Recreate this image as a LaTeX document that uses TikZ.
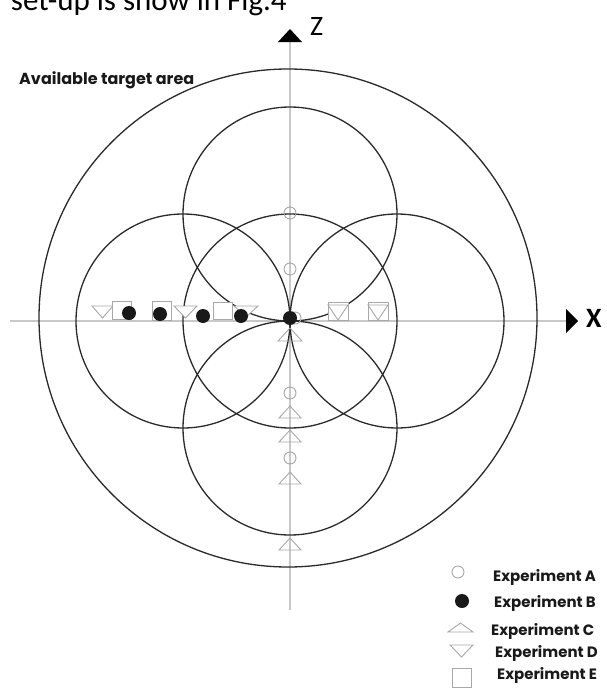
\documentclass[tikz,border=0pt]{standalone}
\usepackage{fontspec}
\newfontfamily\titlefont{Carlito}
\newfontfamily\legfont{Poppins}
\definecolor{axisgray}{HTML}{C8C8C8}
\definecolor{mkgray}{HTML}{A8A8A8}
\definecolor{ringc}{HTML}{2A2A2A}
\newcommand\expA[2]{\draw[mk] (#1,#2) circle[radius=6];}
\newcommand\expB[2]{\fill[dotc] (#1,#2) circle[radius=7];}
\newcommand\expCo[4]{\draw[mk] (#1,#4) -- (#2,#4) -- ({(#1+#2)/2},#3) -- cycle;}
\newcommand\expD[4]{\draw[mk,fill=white] (#1,#3) -- (#2,#3) -- ({(#1+#2)/2},#4) -- cycle;}
\newcommand\expE[4]{\draw[mk,fill=white] (#1,#3) rectangle (#2,#4);}
\begin{document}
\begin{tikzpicture}[x=1pt,y=-1pt,
  axis/.style={draw=axisgray, line width=1.1pt},
  bigring/.style={draw=ringc, line width=1.3pt},
  mk/.style={draw=mkgray, line width=0.9pt},
  dotc/.style={fill=black!90},
  lbl/.style={font=\legfont\bfseries\fontsize{15}{17}\selectfont, anchor=base west, inner sep=0pt, text=black!90},
  axlbl/.style={font=\titlefont\fontsize{28}{30}\selectfont, anchor=base west, inner sep=0pt},
]
\useasboundingbox (0,0) rectangle (606,688);
\fill[white] (0,0) rectangle (606,688);

% title line (cut at top, as in the reference)
\node[font=\titlefont\fontsize{31}{33}\selectfont, anchor=base east, inner sep=0pt] (title) at (287,10) {set-up is show in Fig.4};

% axes
\coordinate (O) at (290,321);
\coordinate (xs) at (10,321);
\coordinate (xe) at (566,321);
\coordinate (zs) at (290,610);
\coordinate (ze) at (290,42);
\draw[axis] (xs) -- (xe);
\draw[axis] (zs) -- (ze);
\fill (566,309) -- (578,321) -- (566,333) -- cycle;
\fill (278,42) -- (290,29) -- (302,42) -- cycle;
\node[axlbl] (zlab) at (310,35) {Z};
\node[axlbl, font=\titlefont\bfseries\fontsize{28}{30}\selectfont] (xlab) at (586,327) {X};

% circles
\draw[bigring] (288,318) circle[radius=249];
\draw[bigring] (290,214) circle[radius=107];
\draw[bigring] (183,321) circle[radius=107];
\draw[bigring] (290,321) circle[radius=107];
\draw[bigring] (397,321) circle[radius=107];
\draw[bigring] (290,428) circle[radius=107];

\node[lbl, font=\legfont\bfseries\fontsize{16}{18}\selectfont] (area) at (19,84) {Available target area};

% markers along X (left)
\expD{92}{113}{306}{318}
\expE{112}{131}{301}{319}
\expB{129}{313}
\expE{152}{171}{301}{320}
\expB{160}{314}
\expD{174}{197}{306}{318}
\expB{203}{316}
\expE{213}{232}{302}{319}
\expD{234}{258}{306}{317}
\expB{241}{316}
% origin
\expA{295}{318}
\expB{290}{318}
% markers along X (right)
\expE{328}{348}{302}{320}
\expD{328}{348}{305}{320}
\expE{368}{388}{302}{320}
\expD{368}{388}{305}{320}
% markers along Z
\expA{290}{213}
\expA{290}{269}
\expCo{278}{302}{328}{341}
\expA{290}{393}
\expCo{279}{301}{406}{418}
\expCo{279}{301}{430}{442}
\expA{290}{458}
\expCo{279}{301}{472}{484}
\expCo{279}{301}{538}{550}

% legend
\expA{458}{572}
\expB{462}{601}
\expCo{448}{473}{623}{632}
\expD{450}{473}{645}{657}
\expE{452}{471}{668}{687}
\node[lbl] (la) at (493,581) {Experiment A};
\node[lbl] (lb) at (494,607) {Experiment B};
\node[lbl] (lc) at (491,635) {Experiment C};
\node[lbl] (ld) at (495,657) {Experiment D};
\node[lbl] (le) at (497,679) {Experiment E};
\end{tikzpicture}
\end{document}
